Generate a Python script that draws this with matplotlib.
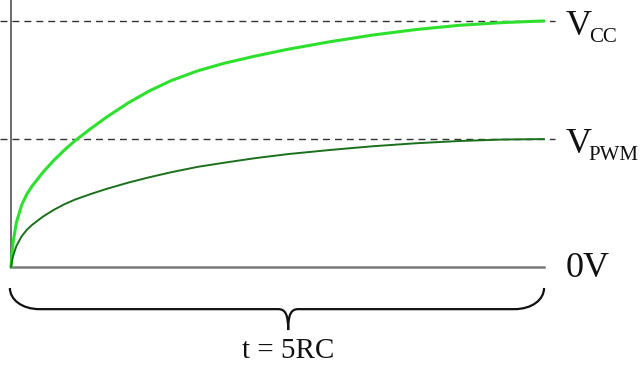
import matplotlib
matplotlib.use("Agg")
import matplotlib.pyplot as plt
from matplotlib.path import Path
from matplotlib.patches import PathPatch

# Time in units of RC, voltage normalised to Vcc
T_END = 5.0
V_CC = 1.0
V_PWM = 0.52

t_points = [0, 0.01, 0.02, 0.05, 0.1, 0.15, 0.2, 0.3, 0.4, 0.5, 0.6, 0.75, 0.9, 1.1,
            1.3, 1.5, 1.75, 2.0, 2.3, 2.6, 3.0, 3.4, 3.8, 4.2, 4.6, 5.0]

# full supply charge curve (bright green)
v_cc_curve = [0, 0.055, 0.1, 0.18, 0.252, 0.297, 0.33, 0.385, 0.433, 0.475, 0.513, 0.563, 0.61, 0.667,
              0.716, 0.757, 0.797, 0.828, 0.858, 0.885, 0.916, 0.943, 0.965, 0.982, 0.993, 1.0]

# pwm charge curve (dark green)
v_pwm_curve = [0, 0.027, 0.045, 0.085, 0.125, 0.152, 0.172, 0.205, 0.232, 0.255, 0.274, 0.297, 0.318,
               0.343, 0.365, 0.385, 0.407, 0.424, 0.443, 0.459, 0.476, 0.491, 0.503, 0.512, 0.518, 0.52]

level_names = ["V", "V", "0V"]
level_subs = ["CC", "PWM", ""]
time_label = "t = 5RC"

plt.rcParams["font.family"] = ["Liberation Serif", "DejaVu Serif"]

fig = plt.figure(figsize=(6.4, 3.66), dpi=100)
ax = fig.add_axes([0, 0, 1, 1])
ax.set_xlim(-0.103, 5.9)
ax.set_ylim(-0.402, 1.085)
ax.axis("off")

# reference levels
dash = (0, (5, 3.6))
for lvl in (V_CC, V_PWM):
    ax.plot([-0.103, 5.1], [lvl, lvl], color="#333333", lw=1.0, linestyle=dash)

# axes lines
ax.plot([0, 0], [0, 1.085], color="#444444", lw=1.1)
ax.plot([0, T_END], [0, 0], color="#7a7a7a", lw=1.8)

# charge curves
ax.plot(t_points, v_cc_curve, color="#2ee02e", lw=2.2, solid_capstyle="round", solid_joinstyle="round")
ax.plot(t_points, v_pwm_curve, color="#1c6f1c", lw=1.4, solid_capstyle="round", solid_joinstyle="round")

# curly brace under the time axis
x0, x1, xm = -0.01, T_END, 2.6
y_top, y_mid, y_tip = -0.085, -0.171, -0.256
rx, ry = 0.28, y_top - y_mid
cw = 0.094
verts = [
    (x0, y_top),
    (x0, y_mid + ry * 0.45), (x0 + rx * 0.4, y_mid), (x0 + rx, y_mid),
    (xm - cw, y_mid),
    (xm - cw * 0.3, y_mid), (xm, y_mid - 0.02), (xm, y_tip),
    (xm, y_mid - 0.02), (xm + cw * 0.3, y_mid), (xm + cw, y_mid),
    (x1 - rx, y_mid),
    (x1 - rx * 0.4, y_mid), (x1, y_mid + ry * 0.45), (x1, y_top),
]
codes = [Path.MOVETO,
         Path.CURVE4, Path.CURVE4, Path.CURVE4,
         Path.LINETO,
         Path.CURVE4, Path.CURVE4, Path.CURVE4,
         Path.CURVE4, Path.CURVE4, Path.CURVE4,
         Path.LINETO,
         Path.CURVE4, Path.CURVE4, Path.CURVE4]
ax.add_patch(PathPatch(Path(verts, codes), facecolor="none", edgecolor="#111111", lw=1.6))

# labels: main letter plus a separate smaller subscript
label_y = [0.943, 0.463, -0.041]
for name, sub, y in zip(level_names, level_subs, label_y):
    ax.text(5.205, y, name, fontsize=26, color="#111111", ha="left", va="baseline")
    if sub:
        ax.text(5.42, y - 0.029, sub, fontsize=15, color="#111111", ha="left", va="baseline")
ax.text(xm, -0.37, time_label, fontsize=21, color="#111111", ha="center", va="baseline")

fig.savefig("out.png", dpi=100)
